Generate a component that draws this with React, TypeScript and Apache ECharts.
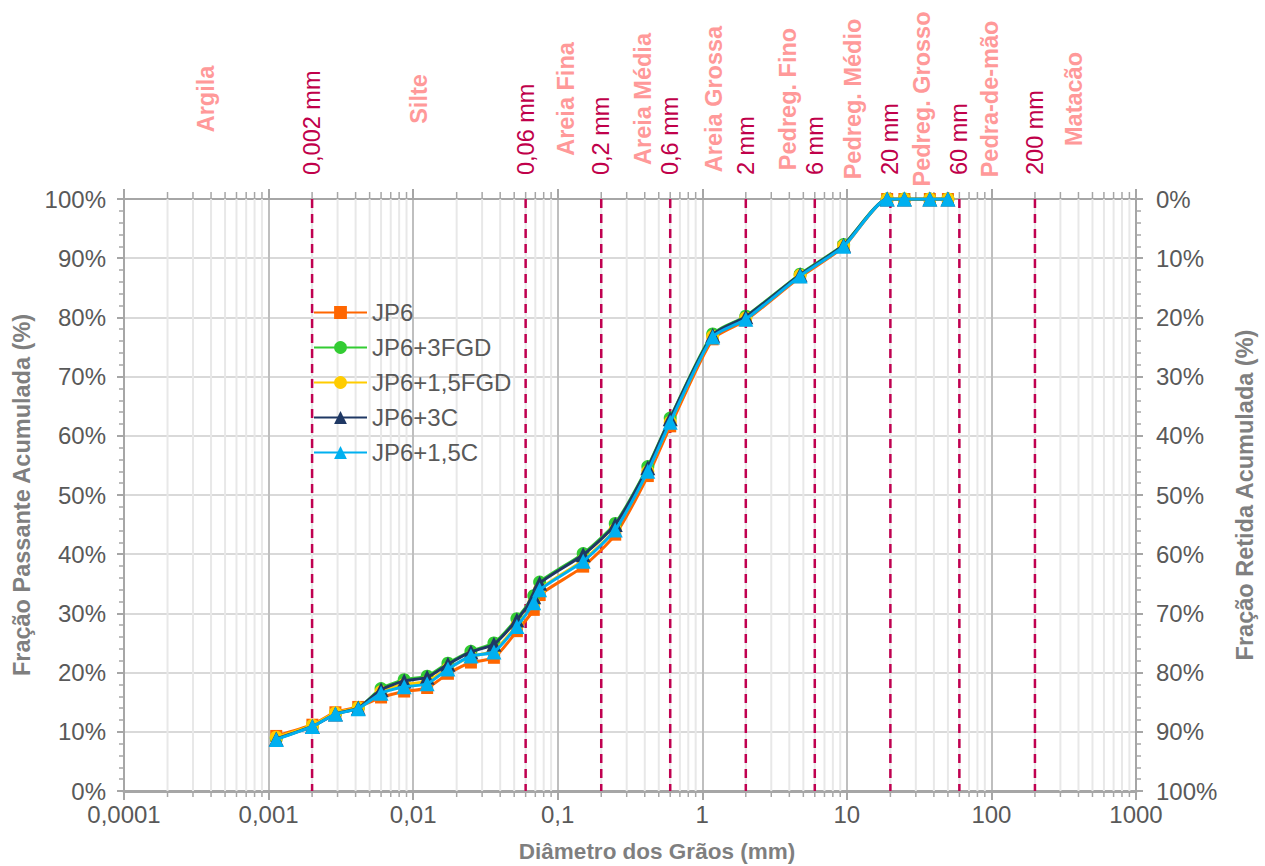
import React, { useEffect, useRef } from 'react';
import * as echarts from 'echarts';

// Grain diameters (mm) for each measured point
const diameters = [0.00113, 0.00201, 0.0029, 0.00417, 0.006, 0.00867, 0.0125, 0.0174, 0.0251, 0.0362, 0.0522, 0.0683, 0.075, 0.15, 0.25, 0.42, 0.6, 1.18, 2.0, 4.75, 9.5, 19, 25, 37.5, 50];

// Cumulative passing (%)
const jp6 = [9.3, 11.2, 13.3, 14.2, 15.8, 16.8, 17.4, 19.8, 21.7, 22.5, 27.0, 30.6, 33.1, 37.9, 43.3, 53.2, 61.6, 76.3, 79.5, 86.8, 91.9, 100, 100, 100, 100];
const jp6_3fgd = [8.9, 11.0, 13.1, 14.0, 17.3, 18.8, 19.4, 21.6, 23.6, 25.0, 29.1, 33.0, 35.3, 40.1, 45.2, 54.8, 63.0, 77.2, 80.2, 87.3, 92.3, 100, 100, 100, 100];
const jp6_15fgd = [9.1, 11.1, 13.2, 14.1, 16.8, 18.0, 18.5, 20.7, 22.7, 23.7, 28.0, 31.8, 34.1, 39.0, 44.2, 54.0, 62.3, 76.8, 79.9, 87.1, 92.1, 100, 100, 100, 100];
const jp6_3c = [8.8, 10.9, 13.0, 14.0, 17.1, 18.6, 19.2, 21.4, 23.5, 24.8, 28.9, 32.8, 35.1, 39.9, 45.0, 54.6, 62.9, 77.0, 80.1, 87.2, 92.2, 100, 100, 100, 100];
const jp6_15c = [8.7, 10.9, 13.0, 13.9, 16.5, 17.6, 18.1, 20.6, 22.8, 23.5, 27.8, 31.8, 34.0, 38.8, 44.1, 54.0, 62.3, 76.7, 79.7, 87.0, 92.0, 100, 100, 100, 100];

const seriesNames = ['JP6', 'JP6+3FGD', 'JP6+1,5FGD', 'JP6+3C', 'JP6+1,5C'];
const seriesColors = ['#FF6600', '#33CC33', '#FFCC00', '#1F3864', '#00B0F0'];
const seriesSymbols = ['rect', 'circle', 'circle', 'triangle', 'triangle'];
const seriesValues = [jp6, jp6_3fgd, jp6_15fgd, jp6_3c, jp6_15c];

// Classification boundaries (mm)
const cutoffValues = [0.002, 0.06, 0.2, 0.6, 2, 6, 20, 60, 200];
const cutoffLabels = ['0,002 mm', '0,06 mm', '0,2 mm', '0,6 mm', '2 mm', '6 mm', '20 mm', '60 mm', '200 mm'];

// Soil class names and their label positions (mm)
const classNames = ['Argila', 'Silte', 'Areia Fina', 'Areia Média', 'Areia Grossa', 'Pedreg. Fino', 'Pedreg. Médio', 'Pedreg. Grosso', 'Pedra-de-mão', 'Matacão'];
const classPositions = [0.00037, 0.011, 0.115, 0.39, 1.2, 3.9, 11, 33, 98, 370];

// Axis extents
const xMin = 0.0001;
const xMax = 1000;
const yTicks = [0, 10, 20, 30, 40, 50, 60, 70, 80, 90, 100];

const minorGrid: number[] = [];
for (let e = -4; e < 3; e++) {
  for (let k = 2; k <= 9; k++) minorGrid.push(Number((k * Math.pow(10, e)).toPrecision(6)));
}

const FONT = '"Liberation Sans", Arial, sans-serif';
const GRAY_TEXT = '#595959';
const TITLE_GRAY = '#7F7F7F';
const AXIS_GRAY = '#A6A6A6';

function fmtX(v: number) {
  const n = Number(Number(v).toPrecision(6));
  return String(n).replace('.', ',');
}

export default function App() {
  const ref = useRef<HTMLDivElement>(null);
  useEffect(() => {
    if (!ref.current) return;
    const chart = echarts.init(ref.current, undefined, { renderer: 'svg' });

    const dataSeries = seriesNames.map((name, i) => ({
      name,
      type: 'line',
      xAxisIndex: 0,
      yAxisIndex: 0,
      data: diameters.map((d, j) => [d, seriesValues[i][j]]),
      symbol: seriesSymbols[i],
      symbolSize: i === 0 ? 12 : i >= 3 ? 15 : 13,
      smooth: 0.2,
      lineStyle: { color: seriesColors[i], width: 3 },
      itemStyle: { color: seriesColors[i] },
      z: 5 + i,
    }));

    const option: any = {
      animation: false,
      grid: { left: 124, right: 126, top: 199, bottom: 75, containLabel: false },
      legend: {
        data: seriesNames,
        orient: 'vertical',
        left: 313,
        top: 300,
        padding: 0,
        itemWidth: 53,
        itemHeight: 16,
        itemGap: 10,
        textStyle: { fontSize: 24, color: GRAY_TEXT, fontFamily: FONT, lineHeight: 25 },
      },
      graphic: [
        {
          type: 'text',
          x: 657,
          y: 851,
          style: {
            text: 'Diâmetro dos Grãos (mm)',
            fill: TITLE_GRAY,
            font: `bold 22.5px ${FONT}`,
            align: 'center',
            verticalAlign: 'middle',
          },
        },
      ],
      xAxis: [
        {
          type: 'log',
          logBase: 10,
          min: xMin,
          max: xMax,
          splitNumber: 7,
          position: 'bottom',
          axisLine: { show: true, lineStyle: { color: AXIS_GRAY, width: 3 } },
          axisTick: { show: true, length: 9, lineStyle: { color: AXIS_GRAY, width: 2 } },
          axisLabel: { fontSize: 24, color: GRAY_TEXT, fontFamily: FONT, margin: 11, formatter: fmtX },
          splitLine: { show: true, lineStyle: { color: '#BFBFBF', width: 2 } },
        },
        {
          type: 'log',
          logBase: 10,
          min: xMin,
          max: xMax,
          splitNumber: 7,
          position: 'top',
          axisLine: { show: true, lineStyle: { color: AXIS_GRAY, width: 2 } },
          axisTick: { show: true, length: 10, lineStyle: { color: AXIS_GRAY, width: 2 } },
          axisLabel: { show: false },
          splitLine: { show: false },
        },
      ],
      yAxis: [
        {
          type: 'value',
          min: yTicks[0],
          max: yTicks[yTicks.length - 1],
          interval: 10,
          position: 'left',
          name: 'Fração Passante Acumulada (%)',
          nameLocation: 'middle',
          nameGap: 90,
          nameRotate: 90,
          nameTextStyle: { fontSize: 23.5, fontWeight: 'bold', color: TITLE_GRAY, fontFamily: FONT },
          axisLine: { show: true, lineStyle: { color: AXIS_GRAY, width: 2 } },
          axisTick: { show: true, length: 7, lineStyle: { color: AXIS_GRAY, width: 2 } },
          minorTick: { show: true, splitNumber: 5, length: 5, lineStyle: { color: AXIS_GRAY, width: 1.5 } },
          axisLabel: { fontSize: 24, color: GRAY_TEXT, fontFamily: FONT, margin: 18, formatter: '{value}%' },
          splitLine: { show: true, lineStyle: { color: '#D9D9D9', width: 2 } },
        },
        {
          type: 'value',
          min: yTicks[0],
          max: yTicks[yTicks.length - 1],
          interval: 10,
          inverse: true,
          position: 'right',
          name: 'Fração Retida Acumulada (%)',
          nameLocation: 'middle',
          nameGap: 97,
          nameRotate: 90,
          nameTextStyle: { fontSize: 23.5, fontWeight: 'bold', color: TITLE_GRAY, fontFamily: FONT },
          axisLine: { show: true, lineStyle: { color: AXIS_GRAY, width: 2 } },
          axisTick: { show: true, length: 7, lineStyle: { color: AXIS_GRAY, width: 2 } },
          minorTick: { show: true, splitNumber: 5, length: 5, lineStyle: { color: AXIS_GRAY, width: 1.5 } },
          axisLabel: { fontSize: 24, color: GRAY_TEXT, fontFamily: FONT, margin: 20, formatter: '{value}%' },
          splitLine: { show: false },
        },
      ],
      series: [
        {
          name: 'minorGrid',
          type: 'custom',
          xAxisIndex: 0,
          yAxisIndex: 0,
          clip: false,
          silent: true,
          z: 1,
          data: minorGrid.map((v) => [v, 100]),
          renderItem: (params: any, api: any) => {
            const v = api.value(0);
            const top = api.coord([v, 100]);
            const bot = api.coord([v, 0]);
            return {
              type: 'group',
              children: [
                { type: 'line', shape: { x1: top[0], y1: top[1], x2: bot[0], y2: bot[1] }, style: { stroke: '#E8E8E8', lineWidth: 2 } },
                { type: 'line', shape: { x1: top[0], y1: top[1], x2: top[0], y2: top[1] - 7 }, style: { stroke: AXIS_GRAY, lineWidth: 1.5 } },
                { type: 'line', shape: { x1: bot[0], y1: bot[1], x2: bot[0], y2: bot[1] + 6 }, style: { stroke: AXIS_GRAY, lineWidth: 1.5 } },
              ],
            };
          },
        },
        {
          name: 'cutoffs',
          type: 'custom',
          xAxisIndex: 0,
          yAxisIndex: 0,
          clip: false,
          silent: true,
          z: 3,
          data: cutoffValues.map((v, i) => [v, 100, i]),
          renderItem: (params: any, api: any) => {
            const v = api.value(0);
            const top = api.coord([v, 100]);
            const bot = api.coord([v, 0]);
            return {
              type: 'group',
              children: [
                {
                  type: 'line',
                  shape: { x1: top[0], y1: top[1], x2: bot[0], y2: bot[1] },
                  style: { stroke: '#C00050', lineWidth: 2.5, lineDash: [9, 6] },
                },
                {
                  type: 'text',
                  x: top[0],
                  y: top[1] - 24,
                  rotation: Math.PI / 2,
                  style: {
                    text: cutoffLabels[params.dataIndex],
                    fill: '#C0004A',
                    font: `23.5px ${FONT}`,
                    align: 'left',
                    verticalAlign: 'middle',
                  },
                },
              ],
            };
          },
        },
        {
          name: 'classes',
          type: 'custom',
          xAxisIndex: 0,
          yAxisIndex: 0,
          clip: false,
          silent: true,
          z: 3,
          data: classPositions.map((v, i) => [v, 100, i]),
          renderItem: (params: any, api: any) => {
            const v = api.value(0);
            const top = api.coord([v, 100]);
            return {
              type: 'text',
              x: top[0],
              y: top[1] - 100,
              rotation: Math.PI / 2,
              style: {
                text: classNames[params.dataIndex],
                fill: '#FF9999',
                font: `bold 23.5px ${FONT}`,
                align: 'center',
                verticalAlign: 'middle',
              },
            };
          },
        },
        ...dataSeries,
      ],
    };
    chart.setOption(option);
    return () => chart.dispose();
  }, []);

  return (
    <div
      ref={ref}
      style={{ position: 'fixed', left: 0, top: 0, width: 1265, height: 866, background: '#fff' }}
    />
  );
}
